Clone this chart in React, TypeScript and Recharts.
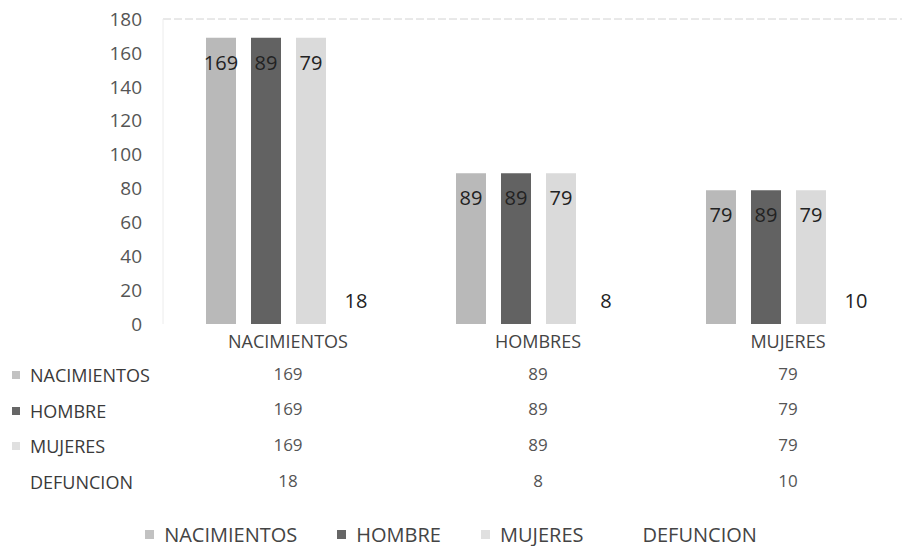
import { BarChart, Bar, XAxis, YAxis, LabelList, ReferenceLine, Legend } from 'recharts'

const categories = ['NACIMIENTOS', 'HOMBRES', 'MUJERES']
const seriesNames = ['NACIMIENTOS', 'HOMBRE', 'MUJERES', 'DEFUNCION']
const nacimientos = [169, 89, 79]
const hombre = [169, 89, 79]
const mujeres = [169, 89, 79]
const defuncion = [18, 8, 10]
// labels as printed on the bars of the original (not always the bar value)
const nacimientosLabels = [169, 89, 79]
const hombreLabels = [89, 89, 89]
const mujeresLabels = [79, 79, 79]
const yTicks = [0, 20, 40, 60, 80, 100, 120, 140, 160, 180]

const colors = ['#b9b9b9', '#626262', '#dadada', '#ffffff']
const swatches = ['#c2c2c2', '#666666', '#e0e0e0', 'transparent']
const font = '"Open Sans", Lato, sans-serif'

const data = categories.map((name, i) => ({
  name,
  nacimientos: nacimientos[i],
  hombre: hombre[i],
  mujeres: mujeres[i],
  defuncion: defuncion[i],
  nacLabel: nacimientosLabels[i],
  homLabel: hombreLabels[i],
  mujLabel: mujeresLabels[i],
}))

const rows = [nacimientos, hombre, mujeres, defuncion]

// x axis tick doubles as the data table column under each category
function TableTick(props: any) {
  const { x, y, payload } = props
  const i = payload.index
  return (
    <g fontFamily={font}>
      <text x={x} y={y + 9} textAnchor="middle" dominantBaseline="central" fontSize={18} fill="#444">
        {payload.value}
      </text>
      {rows.map((r, k) => (
        <text
          key={k}
          x={x}
          y={y + 41 + k * 35.7}
          textAnchor="middle"
          dominantBaseline="central"
          fontSize={17}
          fill="#555"
        >
          {r[i]}
        </text>
      ))}
    </g>
  )
}

function LegendContent() {
  return (
    <div
      style={{
        display: 'flex',
        justifyContent: 'center',
        alignItems: 'center',
        height: 28,
        fontFamily: font,
        fontSize: 20,
        color: '#444',
      }}
    >
      {seriesNames.map((s, k) => (
        <div key={s} style={{ display: 'flex', alignItems: 'center', marginRight: k < seriesNames.length - 1 ? 40 : 0 }}>
          <span style={{ width: 9, height: 9, background: swatches[k], marginRight: 10, display: 'inline-block' }} />
          {s}
        </div>
      ))}
    </div>
  )
}

export default function App() {
  return (
    <div style={{ position: 'absolute', left: 0, top: 0, width: 902, height: 546, background: '#fff', overflow: 'hidden' }}>
      <BarChart
        width={902}
        height={546}
        data={data}
        margin={{ top: 19, right: -11, left: 0, bottom: 192 }}
        barSize={30}
        barGap={15}
        barCategoryGap={42}
      >
        <ReferenceLine y={180} stroke="#d2d2d2" strokeDasharray="8 3" />
        <XAxis
          dataKey="name"
          axisLine={false}
          tickLine={false}
          height={30}
          interval={0}
          tick={<TableTick />}
        />
        <YAxis
          domain={[0, 180]}
          ticks={yTicks}
          width={163}
          axisLine={{ stroke: '#ececec' }}
          tickLine={false}
          tickSize={0}
          tickMargin={21}
          tick={{ fontSize: 19, fill: '#555', fontFamily: font }}
        />
        <Bar dataKey="nacimientos" name={seriesNames[0]} fill={colors[0]} isAnimationActive={false}>
          <LabelList dataKey="nacLabel" position="insideTop" offset={18} fill="#222" fontSize={20} fontFamily={font} />
        </Bar>
        <Bar dataKey="hombre" name={seriesNames[1]} fill={colors[1]} isAnimationActive={false}>
          <LabelList dataKey="homLabel" position="insideTop" offset={18} fill="#222" fontSize={20} fontFamily={font} />
        </Bar>
        <Bar dataKey="mujeres" name={seriesNames[2]} fill={colors[2]} isAnimationActive={false}>
          <LabelList dataKey="mujLabel" position="insideTop" offset={18} fill="#222" fontSize={20} fontFamily={font} />
        </Bar>
        <Bar dataKey="defuncion" name={seriesNames[3]} fill={colors[3]} isAnimationActive={false}>
          <LabelList dataKey="defuncion" position="insideBottom" offset={16} fill="#222" fontSize={20} fontFamily={font} />
        </Bar>
        <Legend
          verticalAlign="middle"
          layout="horizontal"
          content={<LegendContent />}
          wrapperStyle={{ top: 520, left: 0, width: 902 }}
        />
      </BarChart>
      {seriesNames.map((s, k) => (
        <div
          key={s}
          style={{
            position: 'absolute',
            left: 12,
            top: 362 + k * 35.7,
            fontFamily: font,
            fontSize: 18,
            color: '#3a3a3a',
            display: 'flex',
            alignItems: 'center',
            height: 26,
          }}
        >
          <span style={{ width: 8, height: 8, background: swatches[k], marginRight: 10, display: 'inline-block' }} />
          {s}
        </div>
      ))}
    </div>
  )
}
